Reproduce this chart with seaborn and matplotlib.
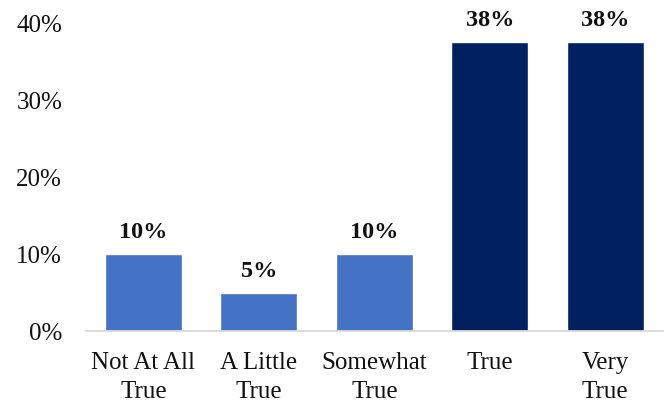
import matplotlib
matplotlib.use("Agg")
import matplotlib.pyplot as plt
import seaborn as sns
import pandas as pd

categories = ["Not At All\nTrue", "A Little\nTrue", "Somewhat\nTrue", "True", "Very\nTrue"]
values = [10, 5, 10, 37.5, 37.5]
value_labels = ["10%", "5%", "10%", "38%", "38%"]
colors = ["#4472C4", "#4472C4", "#4472C4", "#002060", "#002060"]
yticks = [0, 10, 20, 30, 40]
ytick_labels = ["0%", "10%", "20%", "30%", "40%"]

sns.set_style("white")
plt.rcParams['font.family'] = ['Liberation Serif', 'DejaVu Serif']

df = pd.DataFrame({"cat": categories, "val": values})

fig = plt.figure(figsize=(6.67, 4.04), dpi=100)
ax = fig.add_axes([0.1286, 0.1795, 0.994 - 0.1286, 0.943 - 0.1795])
sns.barplot(data=df, x="cat", y="val", hue="cat", palette=colors, legend=False,
            width=0.667, ax=ax, saturation=1)

txt = "#111111"
ax.set_ylim(0, 40)
ax.set_yticks(yticks)
ax.set_yticklabels(ytick_labels, fontsize=18, color=txt)
ax.tick_params(axis="x", labelsize=18, colors=txt, length=0, pad=15)
ax.tick_params(axis="y", length=0, pad=17)
for lbl in ax.get_xticklabels():
    lbl.set_linespacing(1.38)
ax.set_xlabel("")
ax.set_ylabel("")
for s in ["top", "right", "left"]:
    ax.spines[s].set_visible(False)
ax.spines["bottom"].set_color("#D9D9D9")
ax.spines["bottom"].set_linewidth(1.3)

for i, (v, lab) in enumerate(zip(values, value_labels)):
    ax.annotate(lab, xy=(i, v), xytext=(0, 8), textcoords="offset points",
                ha="center", va="bottom", fontsize=17.5, fontweight="bold",
                color=txt, annotation_clip=False)

fig.savefig("out.png", dpi=100)
